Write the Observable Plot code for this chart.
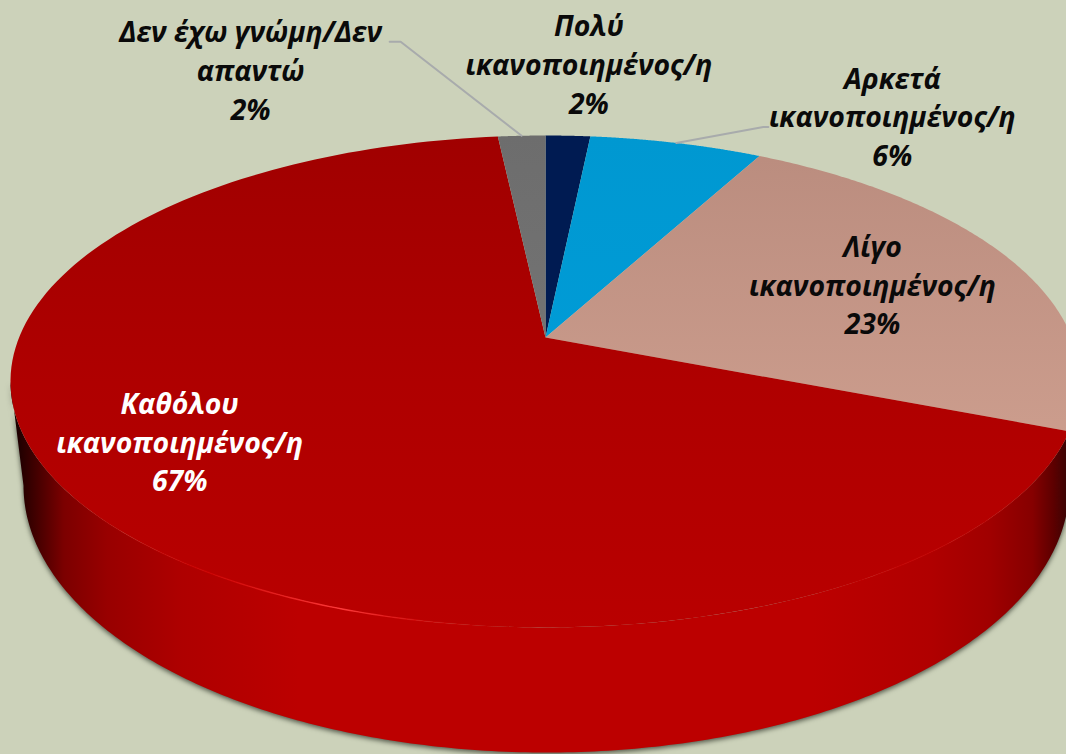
<!DOCTYPE html>
<html>
<head>
<meta charset="utf-8">
<script src="https://cdn.jsdelivr.net/npm/d3@7"></script>
<script src="https://cdn.jsdelivr.net/npm/@observablehq/plot@0.6"></script>
<style>
  html, body { margin: 0; padding: 0; background: #CCD2BA; overflow: hidden; }
  .pie-side { filter: drop-shadow(0 2px 2.5px rgba(40,45,35,0.75)); }
</style>
</head>
<body>
<div id="chart"></div>
<script>
// Data
const categories = ["Πολύ\nικανοποιημένος/η", "Αρκετά\nικανοποιημένος/η", "Λίγο\nικανοποιημένος/η", "Καθόλου\nικανοποιημένος/η", "Δεν έχω γνώμη/Δεν\nαπαντώ"];
const shares = [1.6, 6.2, 23.2, 67.3, 1.7];
const shareLabels = ["2%", "6%", "23%", "67%", "2%"];

// Presentation
const sliceFills = ["url(#navyFill)", "url(#blueFill)", "url(#pinkFill)", "url(#redFill)", "url(#greyFill)"];
const textFills = ["#0a0a0a", "#0a0a0a", "#0a0a0a", "#ffffff", "#0a0a0a"];
const labelOffsets = [[21, -73], [216, -28], [-138.5, 23], [104, -59], [-271, -67]];
const leaderElbows = [null, [[87, -16], [92, -16]], null, null, [[-121, -94], [-132, -94]]];

// 3D pie geometry: a circle seen in perspective
const W = 1066, H = 754;
const hub = {x: 545, y: 337}, persp = 0.1788, rx = 526.4, ry = 238.1;
const base = {x: 546, y: 485, rx: 523, ry: 267};
const rad = (d) => d * Math.PI / 180;
const rim = (t) => {
  const d = 1 + persp * Math.cos(t);
  return {x: hub.x + rx * Math.sin(t) / d, y: hub.y - ry * Math.cos(t) / d};
};
const arc = (a, b, n = 160) => d3.range(n + 1).map((i) => rim(a + (b - a) * i / n));

const total = d3.sum(shares);
const edges = d3.cumsum(shares).map((c) => c / total * 2 * Math.PI);
const slices = shares.map((_, i) => {
  const a = i ? edges[i - 1] : 0, b = edges[i];
  return {i, a, b, mid: (a + b) / 2, points: [hub, ...arc(a, b), hub]};
});

const tSide = Math.acos(-persp);
const frontTop = arc(tSide, 2 * Math.PI - tSide, 240);
const frontBase = d3.range(241).map((i) => {
  const s = rad(270 - 180 * i / 240);
  return {x: base.x + base.rx * Math.sin(s), y: base.y - base.ry * Math.cos(s)};
});
const sideOutline = [...frontTop, ...frontBase];

const defs = () => {
  const g = d3.create("svg:defs");
  g.html(`
    <linearGradient id="navyFill" x1="0" y1="0" x2="0" y2="1"><stop offset="0" stop-color="#001B52"/><stop offset="1" stop-color="#001B52"/></linearGradient>
    <linearGradient id="blueFill" x1="0" y1="0" x2="0" y2="1"><stop offset="0" stop-color="#0098D1"/><stop offset="1" stop-color="#009BD6"/></linearGradient>
    <linearGradient id="greyFill" x1="0" y1="0" x2="0" y2="1"><stop offset="0" stop-color="#6D6D6D"/><stop offset="1" stop-color="#737373"/></linearGradient>
    <linearGradient id="pinkFill" gradientUnits="userSpaceOnUse" x1="0" y1="140" x2="0" y2="440"><stop offset="0" stop-color="#BA8C7E"/><stop offset="1" stop-color="#CC9D8D"/></linearGradient>
    <linearGradient id="redFill" gradientUnits="userSpaceOnUse" x1="0" y1="135" x2="0" y2="630"><stop offset="0" stop-color="#A00000"/><stop offset="0.5" stop-color="#AF0000"/><stop offset="1" stop-color="#B90000"/></linearGradient>
    <linearGradient id="sideFill" gradientUnits="userSpaceOnUse" x1="10" y1="0" x2="1080" y2="0">
      <stop offset="0" stop-color="#100000"/><stop offset="0.02" stop-color="#3a0000"/><stop offset="0.05" stop-color="#7c0000"/>
      <stop offset="0.09" stop-color="#980000"/><stop offset="0.16" stop-color="#AE0000"/><stop offset="0.27" stop-color="#BC0000"/>
      <stop offset="0.75" stop-color="#BC0000"/><stop offset="0.86" stop-color="#B00000"/><stop offset="0.915" stop-color="#A00000"/>
      <stop offset="0.955" stop-color="#860000"/><stop offset="0.975" stop-color="#5c0000"/><stop offset="1" stop-color="#1a0808"/>
    </linearGradient>
    <linearGradient id="rimLight" gradientUnits="userSpaceOnUse" x1="60" y1="0" x2="1060" y2="0">
      <stop offset="0" stop-color="#C80000" stop-opacity="0"/><stop offset="0.15" stop-color="#D00000" stop-opacity="0.8"/>
      <stop offset="0.28" stop-color="#FF3A3A"/><stop offset="0.36" stop-color="#E01010" stop-opacity="0.6"/>
      <stop offset="0.45" stop-color="#C80000" stop-opacity="0"/><stop offset="0.72" stop-color="#C80000" stop-opacity="0"/>
      <stop offset="0.85" stop-color="#C40000" stop-opacity="0.8"/><stop offset="1" stop-color="#C00000" stop-opacity="0"/>
    </linearGradient>`);
  return g.node();
};

const polygon = (points, fill, extra = {}) =>
  Plot.line(points, {x: "x", y: "y", fill, stroke: "none", ...extra});

const leaders = slices.flatMap((s) => {
  const elbow = leaderElbows[s.i];
  if (!elbow) return [];
  const p = rim(s.mid);
  return [Plot.line([p, ...elbow.map(([dx, dy]) => ({x: p.x + dx, y: p.y + dy}))],
    {x: "x", y: "y", stroke: "#A8ABAC", strokeWidth: 2})];
});

const labels = slices.map((s) => {
  const p = rim(s.mid);
  const [dx, dy] = labelOffsets[s.i];
  return Plot.text([{...p, text: `${categories[s.i]}\n${shareLabels[s.i]}`}], {
    x: "x", y: "y", text: "text", dx, dy,
    fill: textFills[s.i], fontSize: 28.4, fontWeight: 700, fontStyle: "italic",
    lineHeight: 1.365, textAnchor: "middle", lineAnchor: "middle"
  });
});

const chart = Plot.plot({
  width: W, height: H,
  margin: 0,
  x: {domain: [0, W], range: [0, W], axis: null},
  y: {domain: [0, H], range: [0, H], axis: null},
  style: {background: "#CCD2BA", fontFamily: "'Open Sans', 'Noto Sans', sans-serif"},
  marks: [
    defs,
    polygon(sideOutline, "url(#sideFill)", {className: "pie-side"}),
    ...slices.map((s) => polygon(s.points, sliceFills[s.i])),
    Plot.line(frontTop, {x: "x", y: "y", stroke: "url(#rimLight)", strokeWidth: 1.4}),
    ...leaders,
    ...labels
  ]
});
document.getElementById("chart").append(chart);
</script>
</body>
</html>
